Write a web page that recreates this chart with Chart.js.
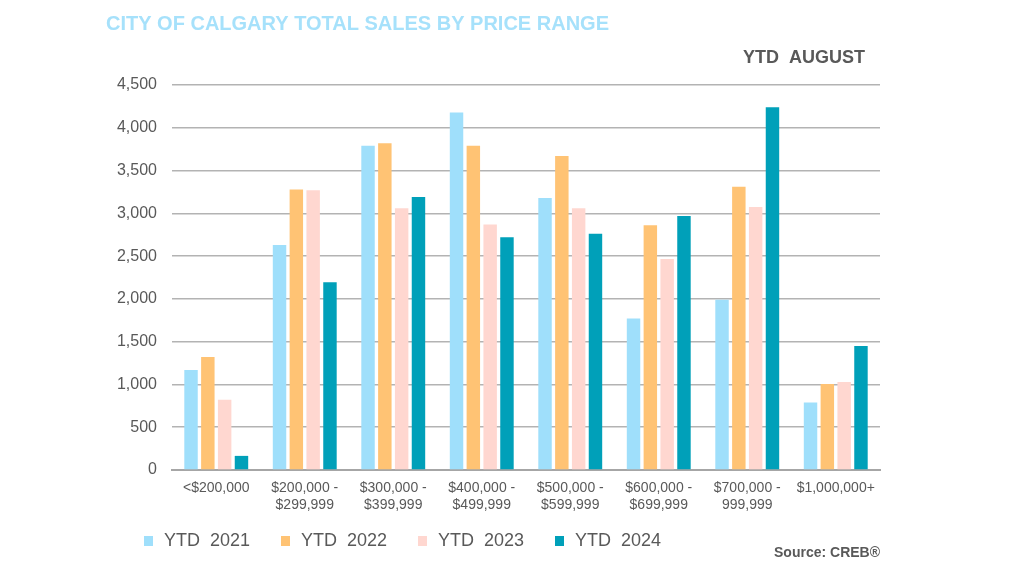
<!DOCTYPE html>
<html>
<head>
<meta charset="utf-8">
<script src="https://cdn.jsdelivr.net/npm/chart.js@4"></script>
<style>
  html, body { margin: 0; padding: 0; background: #ffffff; }
  #wrap { width: 1024px; height: 576px; position: relative; }
</style>
</head>
<body>
<div id="wrap"><canvas id="salesChart" width="1024" height="576"></canvas></div>
<script>
// Price range categories (multi-line labels)
const priceRanges = [
    '<$200,000',
    ['$200,000 -', '$299,999'],
    ['$300,000 -', '$399,999'],
    ['$400,000 -', '$499,999'],
    ['$500,000 -', '$599,999'],
    ['$600,000 -', '$699,999'],
    ['$700,000 -', '999,999'],
    '$1,000,000+'
];

// Sales per year
const ytd2021 = [1170, 2630, 3790, 4180, 3180, 1770, 1990, 790];
const ytd2022 = [1320, 3280, 3820, 3790, 3670, 2860, 3310, 1005];
const ytd2023 = [820, 3270, 3060, 2870, 3060, 2465, 3075, 1030];
const ytd2024 = [165, 2195, 3190, 2720, 2760, 2970, 4240, 1450];

const yTicks = [0, 500, 1000, 1500, 2000, 2500, 3000, 3500, 4000, 4500];

const titleText = 'CITY OF CALGARY TOTAL SALES BY PRICE RANGE';
const periodText = 'YTD  AUGUST';
const sourceText = 'Source: CREB®';

const FONT = "'Liberation Sans', Arial, sans-serif";
const GREY = '#595959';

// Draws the header, the legend row and the source note
const textPlugin = {
    id: 'extraText',
    afterDraw(chart) {
        const ctx = chart.ctx;
        ctx.save();
        ctx.textBaseline = 'middle';
        ctx.fillStyle = '#a6e1fb';
        ctx.font = 'bold 20px ' + FONT;
        ctx.textAlign = 'left';
        ctx.fillText(titleText, 106, 24);

        // legend row
        ctx.font = '18px ' + FONT;
        chart.data.datasets.forEach((ds, i) => {
            const x = 144 + i * 137;
            ctx.fillStyle = ds.backgroundColor;
            ctx.fillRect(x, 536, 9, 10);
            ctx.fillStyle = GREY;
            ctx.fillText(ds.label, x + 20, 541);
        });

        ctx.fillStyle = GREY;
        ctx.font = 'bold 18px ' + FONT;
        ctx.textAlign = 'right';
        ctx.fillText(periodText, 865, 58);

        ctx.font = 'bold 14px ' + FONT;
        ctx.fillText(sourceText, 880, 553);
        ctx.restore();
    }
};

const ctx = document.getElementById('salesChart').getContext('2d');
const salesChart = new Chart(ctx, {
    type: 'bar',
    data: {
        labels: priceRanges,
        datasets: [
            { label: 'YTD  2021', data: ytd2021, backgroundColor: '#9fdffb' },
            { label: 'YTD  2022', data: ytd2022, backgroundColor: '#ffc374' },
            { label: 'YTD  2023', data: ytd2023, backgroundColor: '#ffd7d0' },
            { label: 'YTD  2024', data: ytd2024, backgroundColor: '#00a0b9' }
        ]
    },
    options: {
        responsive: false,
        animation: false,
        datasets: {
            bar: {
                categoryPercentage: 0.76,
                barPercentage: 0.8
            }
        },
        layout: {
            padding: { top: 85, left: 100, right: 144, bottom: 54 }
        },
        plugins: {
            legend: { display: false },
            title: { display: false },
            tooltip: { enabled: false }
        },
        scales: {
            x: {
                grid: { display: false, drawTicks: false },
                border: { display: true, color: '#a6a6a6', width: 2 },
                ticks: {
                    color: GREY,
                    font: { size: 14, family: FONT },
                    padding: 10,
                    maxRotation: 0,
                    autoSkip: false
                },
                afterFit(scale) { scale.height = 52; }
            },
            y: {
                min: 0,
                max: 4500,
                afterBuildTicks(scale) {
                    scale.ticks = yTicks.map(v => ({ value: v }));
                },
                grid: { color: '#b3b3b3', lineWidth: 1.5, drawTicks: false },
                border: { display: false },
                ticks: {
                    color: GREY,
                    font: { size: 16, family: FONT },
                    padding: 15,
                    callback: v => v.toLocaleString('en-US')
                },
                afterFit(scale) { scale.width = 72; }
            }
        }
    },
    plugins: [textPlugin]
});
</script>
</body>
</html>
